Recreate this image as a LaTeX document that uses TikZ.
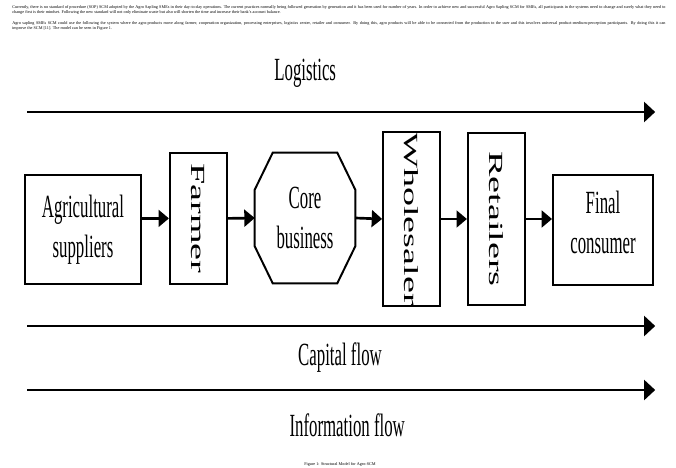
\documentclass[tikz,border=0pt]{standalone}
\usepackage{fontspec}
\setmainfont{Liberation Serif}
\usepackage{graphicx}
\usetikzlibrary{arrows.meta}
\newcommand{\thin}[1]{\scalebox{0.52}[1]{#1}}
\newcommand{\tall}[1]{\rotatebox{-90}{\scalebox{1.18}[0.62]{#1}}}

\begin{document}
\begin{tikzpicture}[every node/.style={font=\fontsize{23}{28.5}\selectfont},
    box/.style={draw,line width=1.4pt,inner sep=0pt,align=center},
    flow/.style={line width=2pt,-{Triangle[length=0.28cm,width=0.5cm]}},
    link/.style={line width=1.9pt,-{Triangle[length=0.26cm,width=0.42cm]}},
    note/.style={font=\fontsize{3}{3.6}\selectfont,inner sep=0pt}]
    \useasboundingbox (0,0) rectangle (16.9,-11.7);
    \node[note,anchor=north west,text width=16.33cm,align=justify] (para1) at (0.3,-0.12) {Currently, there is no standard of procedure (SOP) SCM adopted by the Agro Sapling SMEs in their day-to-day operations. The current practices normally being followed generation by generation and it has been used for number of years. In order to achieve new and successful Agro Sapling SCM for SMEs, all participants in the systems need to change and surely what they need to\linebreak change first is their mindset. Following the new standard will not only eliminate waste but also will shorten the time and increase their bank's account balance.};
    \node[note,anchor=north west,text width=16.33cm,align=justify] (para2) at (0.3,-0.52) {Agro sapling SMEs SCM could use the following the system where the agro-products move along farmer, cooperation organization, processing enterprises, logistics center, retailer and consumer. By doing this, agro products will be able to be connected from the production to the user and this involves universal product-medium-perception participants. By doing this it can\linebreak improve the SCM [11]. The model can be seen in Figure 1.};
    \node (logi) at (7.63,-1.83) {\thin{Logistics}};
    \coordinate (l0) at (0.68,-2.8);
    \coordinate (l1) at (16.38,-2.8);
    \node[box,minimum width=2.9cm,minimum height=2.725cm] (agri) at (2.075,-5.74) {\thin{Agricultural}\\\thin{suppliers}};
    \node[box,minimum width=1.425cm,minimum height=3.275cm] (farmer) at (4.96,-5.46) {\tall{Farmer}};
    \node[align=center,inner sep=0pt,minimum width=2.5cm,minimum height=3.25cm] (core) at (7.625,-5.45) {\thin{Core}\\\thin{business}};
    \node[box,minimum width=1.425cm,minimum height=4.3cm] (whole) at (10.29,-5.475) {\tall{Wholesaler}};
    \node[box,minimum width=1.425cm,minimum height=4.3cm] (retail) at (12.41,-5.475) {\tall{Retailers}};
    \node[box,minimum width=2.5cm,minimum height=2.75cm,label={[align=center,yshift=0.2cm]center:{\thin{Final}\\\thin{consumer}}}] (final) at (15.075,-5.75) {};
    \draw[line width=1.4pt] ([xshift=0.45cm]core.north west) -- ([xshift=-0.45cm]core.north east) -- ([yshift=-0.925cm]core.north east) -- ([yshift=0.925cm]core.south east) -- ([xshift=-0.45cm]core.south east) -- ([xshift=0.45cm]core.south west) -- ([yshift=0.925cm]core.south west) -- ([yshift=-0.925cm]core.north west) -- cycle;
    \draw[link] (agri.east |- farmer.west) -- (farmer.west);
    \draw[link] (farmer.east) -- (core.west);
    \draw[link] (core.east) -- (whole.west);
    \draw[link] (whole.east) -- (retail.west);
    \draw[link] (retail.east) -- (retail.east -| final.west);
    \coordinate (c0) at (0.68,-8.15);
    \coordinate (c1) at (16.38,-8.15);
    \node (capital) at (8.5,-8.93) {\thin{Capital flow}};
    \coordinate (i0) at (0.68,-9.75);
    \coordinate (i1) at (16.38,-9.75);
    \node (info) at (8.68,-10.63) {\thin{Information flow}};
    \draw[flow] (l0) -- (l1);
    \draw[flow] (c0) -- (c1);
    \draw[flow] (i0) -- (i1);
    \node[note] (caption) at (8.5,-11.62) {Figure 1: Structural Model for Agro-SCM};
\end{tikzpicture}
\end{document}
